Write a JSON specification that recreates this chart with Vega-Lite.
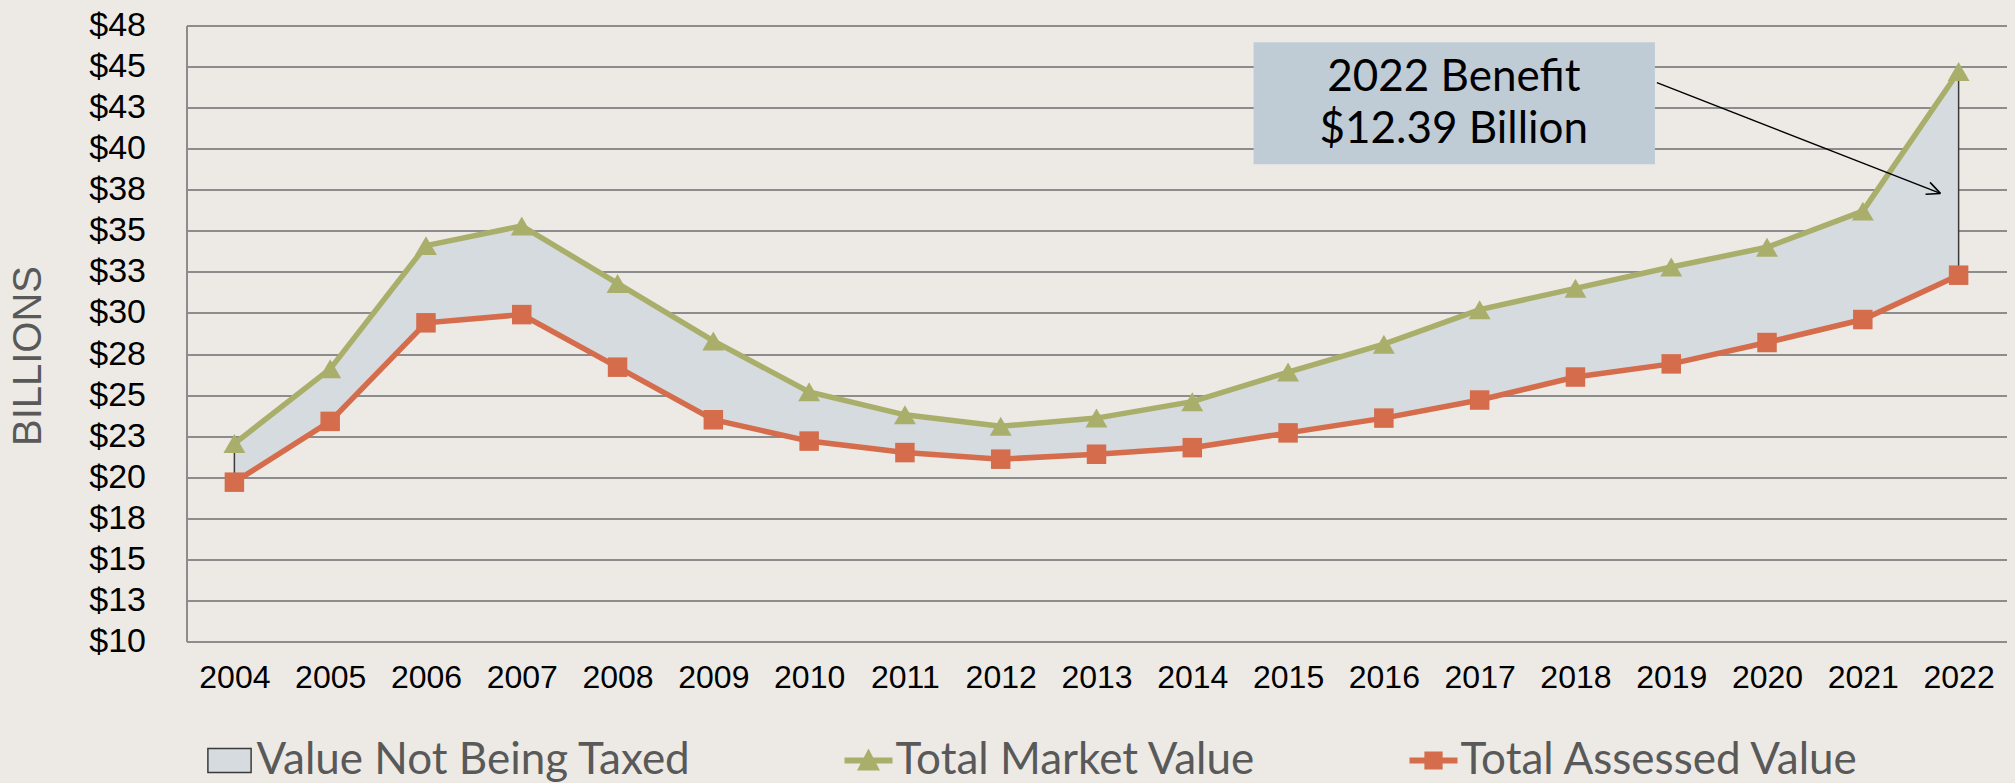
{
  "$schema": "https://vega.github.io/schema/vega-lite/v6.json",
  "width": 1820,
  "height": 616,
  "autosize": {"type": "none"},
  "padding": {"left": 186.5, "top": 25.5, "right": 8.5, "bottom": 141.5},
  "background": "#EDEAE5",
  "config": {"view": {"stroke": null}, "font": "Liberation Sans"},
  "data": {"values": [
    {"year": 2004, "series": "Total Market Value", "value": 22.05},
    {"year": 2005, "series": "Total Market Value", "value": 26.6},
    {"year": 2006, "series": "Total Market Value", "value": 34.1},
    {"year": 2007, "series": "Total Market Value", "value": 35.3},
    {"year": 2008, "series": "Total Market Value", "value": 31.8},
    {"year": 2009, "series": "Total Market Value", "value": 28.3},
    {"year": 2010, "series": "Total Market Value", "value": 25.2},
    {"year": 2011, "series": "Total Market Value", "value": 23.8},
    {"year": 2012, "series": "Total Market Value", "value": 23.1},
    {"year": 2013, "series": "Total Market Value", "value": 23.6},
    {"year": 2014, "series": "Total Market Value", "value": 24.6},
    {"year": 2015, "series": "Total Market Value", "value": 26.4},
    {"year": 2016, "series": "Total Market Value", "value": 28.1},
    {"year": 2017, "series": "Total Market Value", "value": 30.2},
    {"year": 2018, "series": "Total Market Value", "value": 31.5},
    {"year": 2019, "series": "Total Market Value", "value": 32.8},
    {"year": 2020, "series": "Total Market Value", "value": 34.0},
    {"year": 2021, "series": "Total Market Value", "value": 36.2},
    {"year": 2022, "series": "Total Market Value", "value": 44.7},
    {"year": 2004, "series": "Total Assessed Value", "value": 19.7},
    {"year": 2005, "series": "Total Assessed Value", "value": 23.4},
    {"year": 2006, "series": "Total Assessed Value", "value": 29.4},
    {"year": 2007, "series": "Total Assessed Value", "value": 29.9},
    {"year": 2008, "series": "Total Assessed Value", "value": 26.7},
    {"year": 2009, "series": "Total Assessed Value", "value": 23.5},
    {"year": 2010, "series": "Total Assessed Value", "value": 22.2},
    {"year": 2011, "series": "Total Assessed Value", "value": 21.5},
    {"year": 2012, "series": "Total Assessed Value", "value": 21.1},
    {"year": 2013, "series": "Total Assessed Value", "value": 21.4},
    {"year": 2014, "series": "Total Assessed Value", "value": 21.8},
    {"year": 2015, "series": "Total Assessed Value", "value": 22.7},
    {"year": 2016, "series": "Total Assessed Value", "value": 23.6},
    {"year": 2017, "series": "Total Assessed Value", "value": 24.7},
    {"year": 2018, "series": "Total Assessed Value", "value": 26.1},
    {"year": 2019, "series": "Total Assessed Value", "value": 26.9},
    {"year": 2020, "series": "Total Assessed Value", "value": 28.2},
    {"year": 2021, "series": "Total Assessed Value", "value": 29.6},
    {"year": 2022, "series": "Total Assessed Value", "value": 32.3}
  ]},
  "layer": [
    {
      "transform": [{"pivot": "series", "value": "value", "groupby": ["year"]}],
      "mark": {"type": "area", "fill": "#D5DBDF", "interpolate": "linear"},
      "encoding": {
        "x": {"field": "year", "type": "quantitative", "title": null,
          "scale": {"domain": [2003.5, 2022.5], "nice": false, "zero": false},
          "axis": {"values": [2004,2005,2006,2007,2008,2009,2010,2011,2012,2013,2014,2015,2016,2017,2018,2019,2020,2021,2022],
            "format": "d", "grid": false, "ticks": false, "domain": true, "domainColor": "#8C8C8C", "domainWidth": 2,
            "labelFont": "Liberation Sans", "labelFontSize": 32, "labelColor": "#000000", "labelPadding": 21, "labelFlush": false, "labelOverlap": false}},
        "y": {"field": "Total Assessed Value", "type": "quantitative", "title": "BILLIONS",
          "scale": {"domain": [10, 47.5], "nice": false, "zero": false},
          "axis": {"values": [10,12.5,15,17.5,20,22.5,25,27.5,30,32.5,35,37.5,40,42.5,45,47.5],
            "format": "$.0f", "grid": true, "gridColor": "#8C8C8C", "gridWidth": 2, "ticks": false,
            "domain": true, "domainColor": "#8C8C8C", "domainWidth": 2,
            "labelFont": "Liberation Sans", "labelFontSize": 34, "labelColor": "#000000", "labelPadding": 41,
            "labelOverlap": false, "labelFlush": false,
            "titleFont": "Liberation Sans", "titleFontSize": 40, "titleFontWeight": "normal", "titleColor": "#595959",
            "titleX": -158, "titleY": 330, "titleAngle": 270, "titleBaseline": "middle", "titleAlign": "center"}},
        "y2": {"field": "Total Market Value"}
      }
    },
    {
      "transform": [{"pivot": "series", "value": "value", "groupby": ["year"]}, {"filter": "datum.year == 2004 || datum.year == 2022"}],
      "mark": {"type": "rule", "color": "#3A3A3A", "strokeWidth": 1.5},
      "encoding": {
        "x": {"field": "year", "type": "quantitative", "title": null},
        "y": {"field": "Total Assessed Value", "type": "quantitative", "title": "BILLIONS"},
        "y2": {"field": "Total Market Value"}
      }
    },
    {
      "mark": {"type": "line", "strokeWidth": 5.5},
      "encoding": {
        "x": {"field": "year", "type": "quantitative", "title": null},
        "y": {"field": "value", "type": "quantitative", "title": "BILLIONS"},
        "stroke": {"field": "series", "type": "nominal", "legend": null,
          "scale": {"domain": ["Total Market Value", "Total Assessed Value"], "range": ["#A9AF6B", "#D56C4C"]}}
      }
    },
    {
      "transform": [{"filter": "datum.series == 'Total Market Value'"}],
      "mark": {"type": "point", "filled": true, "opacity": 1, "shape": "triangle-up", "size": 480, "color": "#A9AF6B"},
      "encoding": {
        "x": {"field": "year", "type": "quantitative", "title": null},
        "y": {"field": "value", "type": "quantitative", "title": "BILLIONS"}
      }
    },
    {
      "transform": [{"filter": "datum.series == 'Total Assessed Value'"}],
      "mark": {"type": "point", "filled": true, "opacity": 1, "shape": "square", "size": 380, "color": "#D56C4C"},
      "encoding": {
        "x": {"field": "year", "type": "quantitative", "title": null},
        "y": {"field": "value", "type": "quantitative", "title": "BILLIONS"}
      }
    },
    {
      "mark": {"type": "point", "filled": true, "opacity": 0},
      "encoding": {
        "x": {"field": "year", "type": "quantitative", "title": null},
        "y": {"field": "value", "type": "quantitative", "title": "BILLIONS"},
        "size": {"value": 2304},
        "color": {"field": "series", "type": "nominal",
          "scale": {"domain": ["Value Not Being Taxed", "Total Market Value", "Total Assessed Value"], "range": ["#D5DBDF", "#A9AF6B", "#D56C4C"]},
          "legend": {"orient": "none", "legendX": 18, "legendY": 710, "direction": "horizontal", "title": null,
            "labelFont": "Lato", "labelFontSize": 44, "labelColor": "#595959", "labelLimit": 1000, "labelOffset": 2,
            "columnPadding": 150, "symbolSize": 2304, "symbolOpacity": 1,
            "encode": {"symbols": {"update": {"opacity": {"value": 1},
              "stroke": {"signal": "datum.value == 'Value Not Being Taxed' ? '#3A3A3A' : 'transparent'"},
              "strokeWidth": {"value": 1.5}}}}}},
        "shape": {"field": "series", "type": "nominal",
          "scale": {"domain": ["Value Not Being Taxed", "Total Market Value", "Total Assessed Value"],
            "range": ["M-0.9,-0.5L0.9,-0.5L0.9,0.5L-0.9,0.5Z",
                      "M-1,-0.12L1,-0.12L1,0.12L-1,0.12Z M0,-0.5L0.48,0.42L-0.48,0.42Z",
                      "M-1,-0.12L1,-0.12L1,0.12L-1,0.12Z M-0.38,-0.38L0.38,-0.38L0.38,0.38L-0.38,0.38Z"]}}
      }
    },
    {
      "data": {"values": [{}]},
      "mark": {"type": "rect", "color": "#BFCCD6"},
      "encoding": {
        "x": {"datum": 2014.64, "type": "quantitative", "title": null},
        "x2": {"datum": 2018.83},
        "y": {"datum": 46.48, "type": "quantitative", "title": "BILLIONS"},
        "y2": {"datum": 39.05}
      }
    },
    {
      "data": {"values": [{}]},
      "mark": {"type": "text", "font": "Lato", "fontSize": 44, "color": "#000000", "align": "center", "baseline": "middle"},
      "encoding": {
        "x": {"datum": 2016.73, "type": "quantitative", "title": null},
        "y": {"datum": 44.33, "type": "quantitative", "title": "BILLIONS"},
        "text": {"value": "2022 Benefit"}
      }
    },
    {
      "data": {"values": [{}]},
      "mark": {"type": "text", "font": "Lato", "fontSize": 44, "color": "#000000", "align": "center", "baseline": "middle"},
      "encoding": {
        "x": {"datum": 2016.73, "type": "quantitative", "title": null},
        "y": {"datum": 41.14, "type": "quantitative", "title": "BILLIONS"},
        "text": {"value": "$12.39 Billion"}
      }
    },
    {
      "data": {"values": [{}]},
      "mark": {"type": "rule", "color": "#000000", "strokeWidth": 1.5},
      "encoding": {
        "x": {"datum": 2018.85, "type": "quantitative", "title": null},
        "x2": {"datum": 2021.81},
        "y": {"datum": 44.02, "type": "quantitative", "title": "BILLIONS"},
        "y2": {"datum": 37.28}
      }
    },
    {
      "data": {"values": [{}]},
      "mark": {"type": "rule", "color": "#000000", "strokeWidth": 1.5},
      "encoding": {
        "x": {"datum": 2021.702, "type": "quantitative", "title": null},
        "x2": {"datum": 2021.81},
        "y": {"datum": 37.95, "type": "quantitative", "title": "BILLIONS"},
        "y2": {"datum": 37.28}
      }
    },
    {
      "data": {"values": [{}]},
      "mark": {"type": "rule", "color": "#000000", "strokeWidth": 1.5},
      "encoding": {
        "x": {"datum": 2021.655, "type": "quantitative", "title": null},
        "x2": {"datum": 2021.81},
        "y": {"datum": 37.23, "type": "quantitative", "title": "BILLIONS"},
        "y2": {"datum": 37.28}
      }
    }
  ]
}
